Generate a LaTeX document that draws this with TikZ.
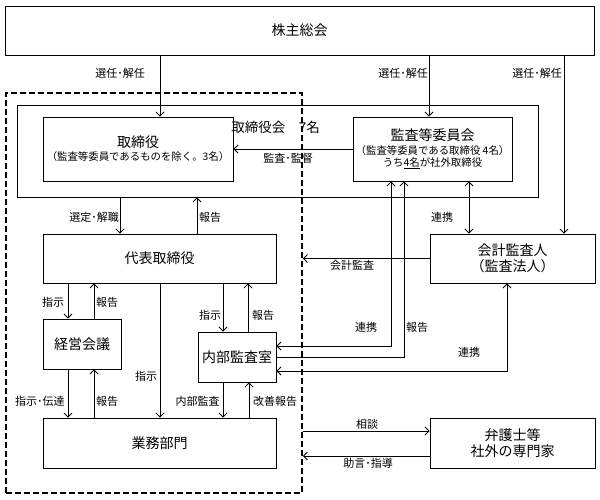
\documentclass[tikz,border=0pt]{standalone}
\usepackage{fontspec}
\setmainfont{Noto Sans CJK JP}
\usetikzlibrary{arrows.meta}

\begin{document}
\begin{tikzpicture}
	[x=1pt,y=-1pt,line width=.9pt,
	>={Straight Barb[length=4pt,width=8pt]},
	box/.style={draw,rectangle,inner sep=0pt,align=center,font=\fontsize{14}{16}\selectfont},
	sub/.style={box,font=\fontsize{10.4}{11.8}\selectfont},
	lbl/.style={inner sep=1pt,font=\fontsize{11}{12}\selectfont}]
	\useasboundingbox (0,0) rectangle (600,499);
	\node (frame) [draw,dashed,line width=1.6pt,dash pattern=on 6pt off 3pt,minimum width=296pt,minimum height=400pt] at (154,293) {};
	\node (agm) [box,minimum width=589pt,minimum height=49pt] at (299.5,30.5) {株主総会};
	\node (board) [draw,minimum width=521pt,minimum height=92pt] at (277.5,151) {};
	\node (boardname) [anchor=west,inner sep=0pt,font=\fontsize{13.5}{15}\selectfont] at (231,127) {取締役会　7名};
	\node (dir) [sub,minimum width=190pt,minimum height=64pt] at (138,149) {{\fontsize{14}{16}\selectfont 取締役}\\[1pt]（監査等委員であるものを除く。3名）};
	\node (audit) [sub,minimum width=159pt,minimum height=64pt] at (432.5,149) {{\fontsize{14}{16}\selectfont 監査等委員会}\\[2pt]（監査等委員である取締役 4名）\\うち\underline{4名}が社外取締役};
	\node (ceo) [box,minimum width=233pt,minimum height=49pt] at (159.5,258.5) {代表取締役};
	\node (mgmt) [box,minimum width=78pt,minimum height=50pt] at (82,344) {経営会議};
	\node (internal) [box,minimum width=78pt,minimum height=50pt] at (237,357) {内部監査室};
	\node (ops) [box,minimum width=233pt,minimum height=50pt] at (159.5,443) {業務部門};
	\node (auditor) [box,minimum width=165pt,minimum height=49pt] at (512.5,258.5) {会計監査人\\（監査法人）};
	\node (lawyer) [box,minimum width=165pt,minimum height=50pt] at (512.5,443) {弁護士等\\社外の専門家};
	\draw [->] (agm.south -| 160,0) -- (dir.north -| 160,0);
	\draw [->] (agm.south -| 429,0) -- (audit.north -| 429,0);
	\draw [->] (agm.south -| 564,0) -- (auditor.north -| 564,0);
	\draw [->] (audit.west) -- (dir.east);
	\draw [->] (board.south -| 120,0) -- (ceo.north -| 120,0);
	\draw [->] (ceo.north -| 197,0) -- (board.south -| 197,0);
	\draw [->] (ceo.south -| 68,0) -- (mgmt.north -| 68,0);
	\draw [->] (mgmt.north -| 94,0) -- (ceo.south -| 94,0);
	\draw [->] (ceo.south -| 160,0) -- (ops.north -| 160,0);
	\draw [->] (ceo.south -| 223,0) -- (internal.north -| 223,0);
	\draw [->] (internal.north -| 248,0) -- (ceo.south -| 248,0);
	\draw [->] (mgmt.south -| 68,0) -- (ops.north -| 68,0);
	\draw [->] (ops.north -| 94,0) -- (mgmt.south -| 94,0);
	\draw [->] (internal.south -| 223,0) -- (ops.north -| 223,0);
	\draw [->] (ops.north -| 249,0) -- (internal.south -| 249,0);
	\draw [->] (auditor.west) -- (auditor.west -| frame.east);
	\draw [<->] (audit.south -| 469,0) -- (auditor.north -| 469,0);
	\draw [<->] (audit.south -| 391,0) |- (internal.east |- 0,346);
	\draw [->] (internal.east) -| (audit.south -| 404,0);
	\draw [<->] (auditor.south -| 507,0) |- (internal.east |- 0,371);
	\draw [->] (frame.east |- 0,431) -- (lawyer.west |- 0,431);
	\draw [->] (lawyer.west |- 0,456) -- (frame.east |- 0,456);
	\node [lbl] at (120,73) {選任･解任};
	\node [lbl] at (403,73) {選任･解任};
	\node [lbl] at (537,73) {選任･解任};
	\node [lbl] at (288,158) {監査･監督};
	\node [lbl] at (94,217) {選定･解職};
	\node [lbl] at (210,217) {報告};
	\node [lbl] at (442,217) {連携};
	\node [lbl] at (53,302) {指示};
	\node [lbl] at (107,302) {報告};
	\node [lbl] at (210,315) {指示};
	\node [lbl] at (263,315) {報告};
	\node [lbl] at (146,376) {指示};
	\node [lbl] at (352,265) {会計監査};
	\node [lbl] at (366,327) {連携};
	\node [lbl] at (417,327) {報告};
	\node [lbl] at (469,352) {連携};
	\node [lbl] at (40,401) {指示･伝達};
	\node [lbl] at (107,401) {報告};
	\node [lbl,anchor=east] at (221,401) {内部監査};
	\node [lbl] at (275,401) {改善報告};
	\node [lbl] at (367,424) {相談};
	\node [lbl] at (368,463) {助言･指導};
\end{tikzpicture}
\end{document}
